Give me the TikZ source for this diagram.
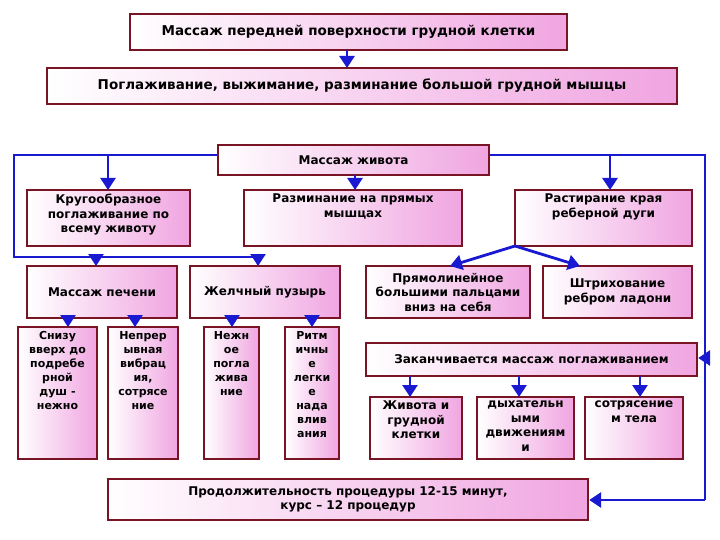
\documentclass[tikz,border=0pt]{standalone}
\usepackage{fontspec}
\setmainfont{DejaVu Sans}
\usetikzlibrary{arrows.meta}
\definecolor{bord}{RGB}{120,20,35}
\definecolor{pinkf}{RGB}{240,165,225}
\definecolor{blu}{RGB}{25,25,210}
\tikzset{
 box/.style={draw=bord,line width=2.4pt,left color=white,right color=pinkf,inner sep=0pt},
 txt/.style={font=\bfseries\fontsize{12}{14.5}\selectfont,align=center,text=black,inner sep=0pt},
 big/.style={font=\bfseries\fontsize{13.5}{16}\selectfont},
 col/.style={font=\bfseries\fontsize{11}{14}\selectfont},
 conn/.style={draw=blu,line width=2.8pt},
 arr/.style={conn,-{Triangle[width=15pt,length=12pt]}},
}
\newcommand\cbox[7][]{%
 \pgfmathsetmacro\bw{#5-#3}\pgfmathsetmacro\bh{#6-#4}%
 \node[box,minimum width=\bw pt,minimum height=\bh pt] (#2) at ({(#3+#5)/2},{(#4+#6)/2}) {};%
 \node[txt,#1] (#2t) at (#2.center) {#7};}
\newcommand\tbox[7][]{%
 \pgfmathsetmacro\bw{#5-#3}\pgfmathsetmacro\bh{#6-#4}%
 \node[box,minimum width=\bw pt,minimum height=\bh pt] (#2) at ({(#3+#5)/2},{(#4+#6)/2}) {};%
 \node[txt,anchor=north,#1] (#2t) at ([yshift=-5pt]#2.north) {#7};}
\begin{document}
\begin{tikzpicture}[x=1pt,y=-1pt]
\useasboundingbox (0,0) rectangle (720,540);
\cbox[big]{t}{130}{14}{567}{50}{Массаж передней поверхности грудной клетки}
\cbox[big]{p}{47}{68}{677}{104}{Поглаживание, выжимание, разминание большой грудной мышцы}
\cbox{mz}{218}{145}{489}{175}{Массаж живота}
\tbox{kr}{27}{190}{190}{246}{Кругообразное\\поглаживание  по\\всему животу}
\tbox{rz}{244}{190}{462}{246}{Разминание на прямых\\мышцах}
\tbox{rs}{515}{190}{692}{246}{Растирание края\\реберной дуги}
\cbox{mp}{27}{266}{177}{318}{Массаж печени}
\cbox{zh}{190}{266}{340}{318}{Желчный пузырь}
\cbox{pr}{366}{266}{530}{318}{Прямолинейное\\большими пальцами\\вниз на себя}
\cbox{sh}{543}{266}{692}{318}{Штрихование\\ребром ладони}
\tbox[col]{c1}{18}{327}{97}{459}{Снизу\\вверх до\\подребе\\рной\\душ -\\нежно}
\tbox[col]{c2}{108}{327}{178}{459}{Непрер\\ывная\\вибрац\\ия,\\сотрясе\\ние}
\tbox[col]{c3}{204}{327}{259}{459}{Нежн\\ое\\погла\\жива\\ние}
\tbox[col]{c4}{285}{327}{339}{459}{Ритм\\ичны\\е\\легки\\е\\нада\\влив\\ания}
\cbox{zk}{366}{343}{697}{376}{Заканчивается массаж поглаживанием}
\tbox{b1}{370}{397}{462}{459}{Живота и\\грудной\\клетки}
\tbox{b2}{477}{397}{574}{459}{дыхательн\\ыми\\движениям\\и}
\tbox{b3}{585}{397}{683}{459}{сотрясение\\м тела}
\cbox{pd}{108}{479}{588}{520}{Продолжительность процедуры 12-15 минут,\\курс – 12 процедур}
% connectors
\draw[arr] (347,50) -- (347,68);
\draw[arr] (355,175) -- (355,190);
\coordinate (la) at (14,155); \coordinate (lb) at (14,257);
\coordinate (lc) at (258,257);
\draw[conn] (mz.west |- la) -- (la) -- (lb) -- (lc);
\draw[arr] (108,155) -- (108,190);
\draw[arr] (96,257) -- (96,266);
\draw[arr] (258,257) -- (258,266);
\coordinate (ra) at (705,155); \coordinate (rb) at (705,500);
\draw[conn] (mz.east |- ra) -- (ra) -- (rb);
\draw[arr] (610,155) -- (610,190);
\draw[arr] (705,358) -- (zk.east |- 0,358);
\draw[arr] (rb) -- (pd.east |- rb);
\coordinate (rsb) at (515,246);
\draw[arr] (rsb) -- (450,266);
\draw[arr] (rsb) -- (580,266);
\draw[arr] (68,318) -- (68,327);
\draw[arr] (135,318) -- (135,327);
\draw[arr] (232,318) -- (232,327);
\draw[arr] (312,318) -- (312,327);
\draw[arr] (410,376) -- (410,397);
\draw[arr] (519,376) -- (519,397);
\draw[arr] (640,376) -- (640,397);
\end{tikzpicture}
\end{document}
